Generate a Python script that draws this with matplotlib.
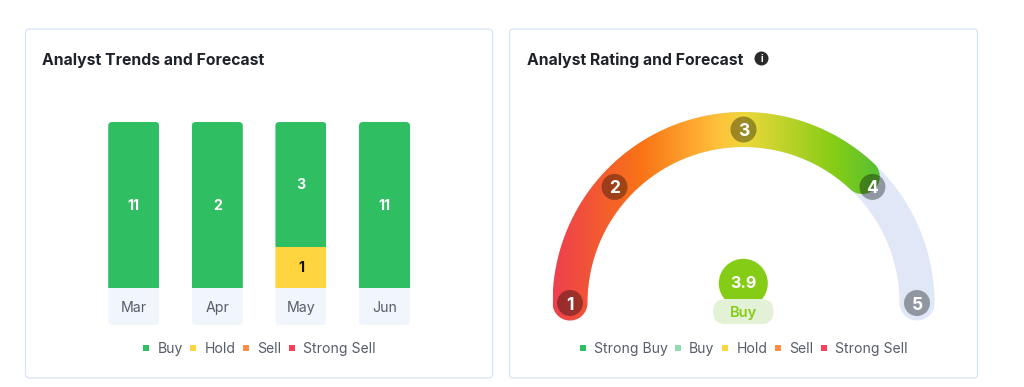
import matplotlib
matplotlib.use('Agg')
import matplotlib.pyplot as plt
import numpy as np
from matplotlib.colors import LinearSegmentedColormap
from matplotlib.patches import Circle, FancyBboxPatch, PathPatch
from matplotlib.path import Path
from matplotlib.transforms import Bbox, IdentityTransform

plt.rcParams['font.family'] = ['Inter', 'DejaVu Sans']

# Data
months = ['Mar', 'Apr', 'May', 'Jun']
buy = np.array([11, 2, 3, 11])
hold = np.array([0, 0, 1, 0])
sell = np.array([0, 0, 0, 0])
strong_sell = np.array([0, 0, 0, 0])

left_legend = ['Buy', 'Hold', 'Sell', 'Strong Sell']
right_legend = ['Strong Buy', 'Buy', 'Hold', 'Sell', 'Strong Sell']
rating = 3.9
rating_label = 'Buy'
gauge_ticks = [1, 2, 3, 4, 5]

# Colours
GREEN = '#2FBF62'
YELLOW = '#FFD53F'
ORANGE = '#FF8F45'
RED = '#F9405A'
MINT = '#8FDDB0'
CELL = '#F1F6FD'
BORDER = '#D6E4F5'
TEXT = '#565D6B'
TITLE = '#1E2229'
TRACK = '#E0E8F8'
LIME = '#84CC16'

# Gauge geometry in pixels
CX, CY = 743.5, 303
R = 173.5
W = 35
tick_angles = [180, 138, 90, 42, 0]

W_PX, H_PX = 1024, 387
fig = plt.figure(figsize=(W_PX / 100, H_PX / 100), dpi=100, facecolor='white')

# Overlay in pixel coordinates for the cards, texts and the gauge
ax = fig.add_axes([0, 0, 1, 1])
ax.axis('off')


def card(x0, x1, y0=29, y1=378):
    ax.add_patch(FancyBboxPatch((x0, y0), x1 - x0, y1 - y0,
                                boxstyle='round,pad=0,rounding_size=4',
                                fc='white', ec=BORDER, lw=0.9))


def legend(labels, colors, squares, starts, y=347.7):
    for name, col, sx, tx in zip(labels, colors, squares, starts):
        ax.add_patch(plt.Rectangle((sx - 3, y - 3), 6, 6, fc=col, ec='none'))
        ax.text(tx, y, name, fontsize=10.1, color=TEXT, va='center_baseline', ha='left')


def arc_path(a0, a1):
    """Thick arc with round caps going clockwise from a0 to a1 (degrees)."""
    hw = W / 2
    a = np.radians(np.linspace(a0, a1, 200))
    px = [CX + (R + hw) * np.cos(a)]
    py = [CY - (R + hw) * np.sin(a)]
    c = np.radians(np.linspace(a1, a1 - 180, 40))
    px.append(CX + R * np.cos(a[-1]) + hw * np.cos(c))
    py.append(CY - R * np.sin(a[-1]) - hw * np.sin(c))
    px.append(CX + (R - hw) * np.cos(a[::-1]))
    py.append(CY - (R - hw) * np.sin(a[::-1]))
    c = np.radians(np.linspace(a0 + 180, a0, 40))
    px.append(CX + R * np.cos(a[0]) + hw * np.cos(c))
    py.append(CY - R * np.sin(a[0]) - hw * np.sin(c))
    return Path(np.column_stack([np.concatenate(px), np.concatenate(py)]))


card(25.5, 492.5)
card(509.5, 977.5)

ax.text(42, 58.5, 'Analyst Trends and Forecast', fontsize=11.35, fontweight='bold',
        color=TITLE, va='center_baseline')
ax.text(527, 58.5, 'Analyst Rating and Forecast', fontsize=11.35, fontweight='bold',
        color=TITLE, va='center_baseline')
ax.add_patch(Circle((761.5, 58.5), 7, fc='#2B2B2B', ec='none'))
ax.text(761.5, 58.7, 'i', fontsize=7, fontweight='bold', color='white',
        ha='center', va='center')

legend(left_legend, [GREEN, YELLOW, ORANGE, RED],
       [146, 193, 245.7, 292], [157.7, 205, 257, 303])
legend(right_legend, [GREEN, MINT, YELLOW, ORANGE, RED],
       [583, 677.7, 725, 777.7, 823.7], [594.3, 689, 736.7, 788.7, 835])

# Gauge
end_angle = np.interp(rating, gauge_ticks, tick_angles)
ax.add_patch(PathPatch(arc_path(180, 0), fc=TRACK, ec='none', zorder=2))

stops = [(0.0, '#EE3F4E'), (0.26, '#F97316'), (0.49, '#FFC13B'), (0.57, '#EDD83A'),
         (0.84, '#84CC16'), (1.0, '#4DBD3A')]
cmap = LinearSegmentedColormap.from_list('gauge', stops)
grad = ax.imshow(np.linspace(0, 1, 256)[None, :], cmap=cmap, aspect='auto',
                 extent=(553, 890, 330, 105), zorder=3)
clip = PathPatch(arc_path(180, end_angle), fc='none', ec='none', transform=ax.transData)
ax.add_patch(clip)
grad.set_clip_path(clip)

for tick, ang in zip(gauge_ticks, tick_angles):
    x = CX + R * np.cos(np.radians(ang))
    y = CY - R * np.sin(np.radians(ang))
    ax.add_patch(Circle((x, y), 13, fc='black', alpha=0.35, ec='none', zorder=4))
    ax.text(x, y, str(tick), fontsize=12.5, fontweight='bold', color='white',
            ha='center', va='center_baseline', zorder=5)

ax.add_patch(Circle((743.3, 283.3), 24.5, fc=LIME, ec='none', zorder=4))
ax.add_patch(FancyBboxPatch((713, 299), 60.5, 25, boxstyle='round,pad=0,rounding_size=12.5',
                            fc='#E3F1D6', ec='none', zorder=5))
ax.text(743.3, 282.5, str(rating), fontsize=11.6, fontweight='bold', color='white',
        ha='center', va='center_baseline', zorder=6)
ax.text(743.3, 311.5, rating_label, fontsize=10.6, fontweight='semibold', color=LIME,
        ha='center', va='center_baseline', zorder=6)

ax.set_xlim(0, W_PX)
ax.set_ylim(H_PX, 0)

# Stacked 100% bars with a month cell under each
bar_top, bar_bottom, cell_bottom = 122, 288, 325
spacing = 83.6
ax_bar = fig.add_axes([(133.7 - spacing / 2) / W_PX, (H_PX - cell_bottom) / H_PX,
                       4 * spacing / W_PX, (cell_bottom - bar_top) / H_PX])
ax_bar.axis('off')
ax_bar.patch.set_alpha(0)
cell_h = (cell_bottom - bar_bottom) / (bar_bottom - bar_top)
ax_bar.set_xlim(-0.5, 3.5)
ax_bar.set_ylim(-cell_h, 1)

total = buy + hold + sell + strong_sell
x = np.arange(len(months))
bw = 51 / spacing
bottom = np.zeros(len(months))
columns = [[] for _ in months]
for values, col, txt in [(hold, YELLOW, '#111111'), (sell, ORANGE, 'white'),
                         (strong_sell, RED, 'white'), (buy, GREEN, 'white')]:
    share = values / total
    bars = ax_bar.bar(x, share, bw, bottom=bottom, color=col)
    for i, b in enumerate(bars):
        columns[i].append(b)
        if values[i] > 0:
            ax_bar.text(x[i], bottom[i] + share[i] / 2 + 0.006, str(values[i]), color=txt, fontsize=10.2,
                        fontweight='bold', ha='center', va='center_baseline', zorder=5)
    bottom += share

cells = ax_bar.bar(x, [cell_h] * len(months), bw, bottom=-cell_h, color=CELL)
for i, b in enumerate(cells):
    columns[i].append(b)
    ax_bar.text(x[i], -cell_h / 2, months[i], color=TEXT, fontsize=10.2, ha='center',
                va='center_baseline', zorder=5)

# Round the column corners
fig.canvas.draw()
for col_bars in columns:
    box = Bbox.union([b.get_window_extent() for b in col_bars])
    rounded = FancyBboxPatch((box.x0, box.y0), box.width, box.height,
                             boxstyle='round,pad=0,rounding_size=4',
                             transform=IdentityTransform())
    for b in col_bars:
        b.set_clip_path(rounded)

fig.savefig('out.png', dpi=100)
